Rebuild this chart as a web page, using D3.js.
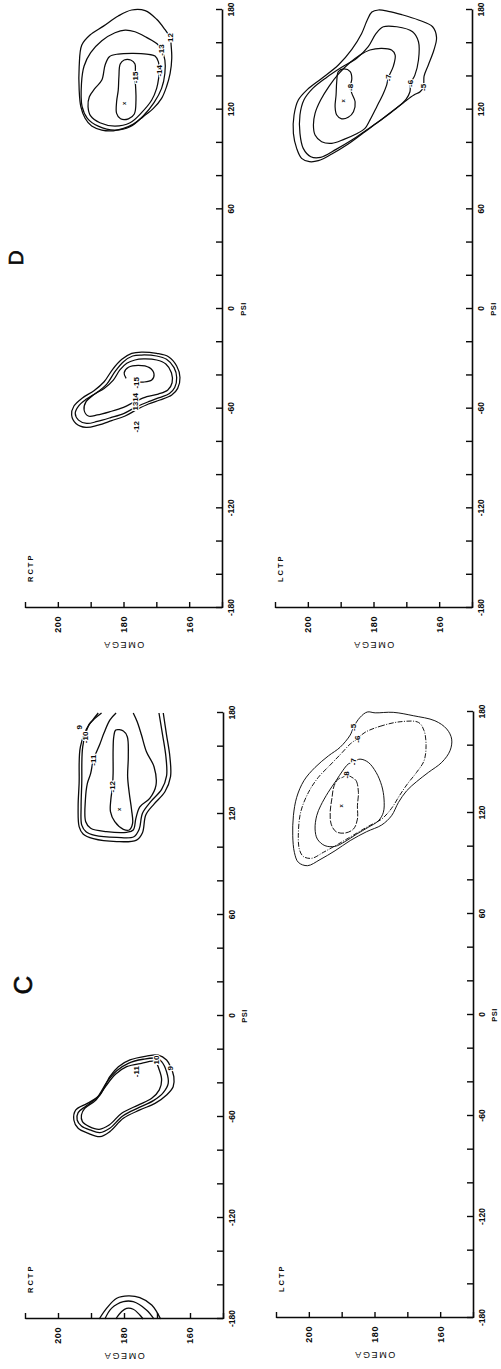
<!DOCTYPE html>
<html>
<head>
<meta charset="utf-8">
<script src="https://cdn.jsdelivr.net/npm/d3@7"></script>
<style>
  html, body { margin: 0; padding: 0; background: #fff; }
  svg { display: block; }
  .tick text { font-family: "Liberation Sans Narrow", "Liberation Sans", Arial, sans-serif; font-weight: bold; }
  .om .tick text { font-family: "Liberation Sans", Arial, sans-serif; }
</style>
</head>
<body>
<script>
// ---- Axis ticks ---------------------------------------------------------
const psiTickValues   = [-180, -160, -140, -120, -100, -80, -60, -40, -20, 0, 20, 40, 60, 80, 100, 120, 140, 160, 180];
const psiTickLabels   = [-180, -120, -60, 0, 60, 120, 180];
const omegaTickValues = [150, 160, 170, 180, 190, 200, 210];
const omegaTickLabels = [160, 180, 200];

// ---- Contours: points are [psi, omega] in degrees -----------------------
// Panel C, RCTP
const cR_edgeA = [[-180,187.5],[-173.7,185.3],[-167.7,182.2],[-166.3,178.7],[-167.3,175.2],[-171.7,171.6],[-180,168.9]];
const cR_edgeB = [[-180,185.8],[-173.7,183.8],[-169.7,180.2],[-169.7,177.2],[-174.6,173.2],[-180,170.9]];
const cR_edgeC = [[-180,182.5],[-175.6,180.7],[-173.7,179.2],[-174.2,177.2],[-177.6,175.2],[-180,174.2]];
const cR_mid9  = [[-23.2,169.6],[-23.8,173.2],[-26.1,178.2],[-30.1,181.7],[-36,184.3],[-46.9,187.3],[-51.9,191.1],[-55.8,194.6],[-61.8,195.2],[-66.7,193.9],[-69.7,190.8],[-71.7,187.3],[-68.7,184.3],[-60.8,180.2],[-55.8,175.2],[-51.9,170.6],[-46.9,167.1],[-42,165.1],[-36,164.9],[-30.1,165.9],[-26.1,167.1]];
const cR_mid10 = [[-25.1,170.1],[-25.7,174.2],[-28.1,178.7],[-32.5,182.2],[-39,185.1],[-48.3,188.1],[-53.5,191.5],[-57.4,193.9],[-61.8,194.2],[-65.3,192.9],[-67.7,190.3],[-69.3,187.3],[-66.7,184.3],[-59.4,180.4],[-54.3,175.4],[-50.3,171.1],[-45.5,168.1],[-40,166.6],[-33.1,167.1],[-27.1,168.6]];
const cR_mid11 = [[-27.1,170.6],[-28.1,174.7],[-30.1,179.2],[-34.5,182.5],[-41.6,185.5],[-49.9,188.5],[-54.9,191.9],[-58.8,192.9],[-62.8,192.6],[-65.7,190.5],[-67.3,187.5],[-64.8,184.5],[-57.8,180.7],[-52.9,175.7],[-48.9,171.6],[-43.9,169.3],[-38,168.6],[-32.1,169.3]];
const cR_top9  = [[180,186.8],[176.8,188.8],[173.4,190.5],[160,193.2],[138.2,193.6],[124.3,193.9],[112.5,193.6],[108.1,192.4],[105.3,189.3],[103.6,182.2],[104.5,176.2],[108.9,174.4],[119.4,173.4],[125.9,170.9],[133.2,167.6],[142.2,165.9],[154,166.1],[166.9,167.1],[180,168.1]];
const cR_top10 = [[180,187.8],[175.8,189.5],[172.3,190.8],[160,192.5],[138.2,192.8],[124.3,193],[113.4,192.8],[109.5,191.5],[107.3,188.8],[106.1,182.2],[106.5,177],[110.9,175.4],[120.4,174.4],[127.3,171.9],[134.6,168.6],[142.6,167.1],[154,167.3],[166.9,168.3],[180,169.4]];
const cR_top11 = [[180,182.4],[175.8,184.3],[167.9,186.1],[161.6,187.3],[152,189.3],[144.1,190.1],[138.2,191.1],[128.3,191.7],[115.4,191.6],[111.5,190.1],[109.5,185.3],[109.1,179.2],[110.5,177.2],[117.4,176.4],[124.3,175.2],[129.3,172.2],[137.2,170.3],[148.1,170.9],[157,173.2],[166.9,174.7],[174.8,176],[180,177.2]];
const cR_top12 = [[169.9,182.5],[169.3,180.2],[165.9,179],[154,178.7],[142.2,178.9],[132.3,178.4],[122.4,177.7],[114.4,177.4],[110.5,178.4],[110.9,180.2],[115.4,182.8],[121.4,184.1],[128.3,184],[136.2,183.5],[144.1,183.3],[158,183.3],[165.9,183.1]];

// Panel C, LCTP
const cL_5 = [[179.5,179.8],[179.8,174.3],[177.8,168.2],[174.8,161.6],[169.9,158],[163.9,156.5],[157,157],[150.1,159.5],[144.1,163.6],[138.6,167.2],[133.2,170.2],[126.3,172.7],[118.4,174.8],[112.9,177.8],[108.9,182.4],[103.6,187.4],[97.6,192],[92.3,196.6],[88.7,200.4],[90.7,203.2],[96.6,204.4],[106.5,204.9],[118.4,204.7],[129.3,203.7],[139.2,201.5],[147.1,198.1],[154,194],[159,190.5],[166.3,187.4],[170.9,186.4],[176.8,184.4],[180,182.2]];
const cL_6 = [[167.9,182.9],[171.5,178.3],[174.2,172.2],[173.8,166.6],[168.9,164.9],[160,164.3],[151.1,164.9],[144.1,167.2],[137.2,170],[130.3,172.4],[122.8,174.8],[116.4,177.8],[112.1,181.9],[106.9,186.4],[101.6,191],[96.6,195.6],[93.1,199.1],[94.2,201.7],[98.6,202.9],[106.5,203.2],[120.4,202.5],[132.3,200.1],[141.2,197.1],[148.5,193.5],[155.6,190],[161,187.4],[163.9,185.4]];
const cL_7 = [[152,184.4],[150.1,181.9],[144.1,179.5],[136.2,177.8],[128.3,177.1],[120.4,177.3],[115.4,178.8],[111.5,181.9],[107.5,185.4],[103,189],[100.2,192],[100.6,195.1],[104.5,197.4],[110.5,198.1],[118.4,197.6],[124.3,196.4],[132.3,194.1],[139.2,191.7],[145.1,189.7],[149.1,188],[150.5,186.4]];
const cL_8 = [[141.2,186.9],[139.2,185.6],[132.3,184.9],[124.3,185.2],[116.4,185.2],[110.5,186.4],[108.1,189],[108.9,191.7],[113.4,193.2],[120.4,193.5],[128.3,193],[136.2,192.3],[140.2,191],[141.2,189.7],[142.6,188.5]];

// Panel D, RCTP
const dR_low12 = [[-25.9,174.5],[-26.7,169.9],[-28.7,166.3],[-34.3,163.8],[-41.2,162.8],[-47.8,163.5],[-51.8,165.3],[-54.8,168.9],[-57.2,172.4],[-60.4,175.8],[-64.4,179.5],[-67.2,183.6],[-69.9,187.7],[-71.3,191.4],[-68.9,194.5],[-63.8,195.8],[-58.4,195.1],[-53.4,192.4],[-49.2,189],[-43.8,185.9],[-36.3,183.3],[-30.3,180.5],[-26.7,177.5]];
const dR_low13 = [[-27.7,174.5],[-28.3,169.9],[-30.3,166.9],[-35.3,164.6],[-41.2,163.8],[-47.2,164.4],[-50.8,166],[-53.4,169.1],[-55.8,172.4],[-58.8,176],[-62.8,179.8],[-65.4,183.9],[-67.7,188],[-68.9,191.2],[-66.9,193.7],[-62.8,194.7],[-58.4,193.7],[-54.4,191.4],[-50.4,188.2],[-45.2,185.1],[-37.7,182.6],[-31.7,180],[-28.3,177.2]];
const dR_low14 = [[-30.1,173.9],[-30.7,169.9],[-33.1,167.1],[-38.4,165.4],[-44.4,165.2],[-48.8,166.5],[-51.2,169.4],[-52.8,172.9],[-55.8,176.5],[-59.2,180],[-61.8,184.1],[-63.8,188],[-64.4,190.7],[-60.8,192],[-55.8,191.4],[-51.8,189.2],[-47.8,185.9],[-42.8,183.1],[-36.7,181.1],[-32.7,179],[-30.7,176.5]];
const dR_low15 = [[-41.8,179.2],[-38.4,179.8],[-35.1,178.5],[-33.9,175.5],[-35.3,172.1],[-39.2,170.7],[-42.8,171.4],[-44,174],[-43.8,176.5]];
const dR_high12 = [[158.9,165.5],[150.9,165.3],[141.8,165.8],[133.8,166.9],[126.8,168.4],[120.8,170.9],[115.8,174],[111.3,177],[108.7,180],[107.3,183.1],[107.7,186.6],[110.1,189.7],[114.8,191.7],[121.8,193],[131.8,193.5],[145.9,193.5],[158.9,192.7],[164.9,190.2],[170.3,186.1],[176.4,181.6],[180,177.5],[179.6,173.4],[174.4,169.9],[168.3,167.4],[163.5,165.8]];
const dR_high13 = [[159.5,169.7],[163.5,173],[166.9,176.5],[167.9,179.5],[166.3,182.6],[161.5,186.6],[154.3,190],[146.3,192],[135.8,192.8],[121.8,192.6],[114.8,191],[110.1,187.7],[107.7,182.6],[109.7,178],[116.2,174],[124.2,170.7],[132.8,168.4],[141.8,167.4],[149.9,167.4],[155.9,168.4]];
const dR_high14 = [[148.9,169.4],[152.3,170.4],[153.5,173],[153.9,177],[153.5,181.6],[151.9,184.3],[146.9,185.6],[137.8,186.6],[132.8,188.7],[127.8,190.4],[121.8,190.8],[116.2,190],[112.1,187.2],[110.1,182.6],[112.1,178],[118.2,174.5],[125.8,171.4],[132.8,169.9],[138.8,169.3],[143.4,169.1]];
const dR_high15 = [[142.8,176.4],[147.5,176.5],[149.9,177.8],[149.9,179.8],[147.5,181],[139.8,181.4],[131.8,181.6],[124.8,182.1],[117.8,182.1],[114.5,180.9],[114.5,178.5],[117.4,176.7],[125.8,176.2],[133.4,176.3],[139.4,176.5]];

// Panel D, LCTP
const dL_5 = [[140.2,164.6],[146.9,163.3],[155.9,161.6],[163.5,160.8],[169.9,162],[174,166.3],[177.2,171.4],[179.2,175.5],[180,178.5],[178.8,180.5],[174,181.9],[165.9,183.6],[156.3,186.6],[146.9,190.7],[138.8,195.8],[132.2,200.1],[125.8,202.9],[116.8,204.2],[105.7,204.4],[96.7,203.4],[90.7,201.9],[88.7,199.5],[89.3,196.8],[93.3,192.7],[99.3,187.7],[106.7,182.6],[112.7,178.5],[118.8,174.5],[124.2,170.9],[128.8,167.7],[130.8,165.8],[133.4,164.8]];
const dL_6 = [[140.8,167.4],[149.9,166.3],[160.9,166.3],[166.9,168.1],[169.9,172.9],[169.9,177],[165.9,179.2],[157.9,181.6],[150.9,185.1],[145.5,189.7],[139.4,194.3],[132.8,198.5],[125.8,201.2],[116.8,202.4],[105.7,202.4],[96.7,201.4],[91.7,199.1],[91.3,196.1],[96.1,191.4],[101.7,186.6],[108.1,181.9],[114.1,177.5],[120.2,173.4],[126.2,170.1],[130.8,168.9],[135.8,168.7]];
const dL_7 = [[145.9,174],[152.9,173.4],[155.9,174.5],[156.9,177.5],[155.9,181.1],[152.9,184.1],[147.9,187.4],[141.4,190.7],[134.2,193.5],[125.8,196.1],[117.8,197.8],[110.7,198.3],[104.7,197.8],[100.7,195.8],[99.7,192.7],[102.1,189],[105.3,185.3],[108.7,182.6],[113.7,181.1],[121.8,179],[129.8,177],[134.8,176],[139.2,175.5]];
const dL_8 = [[138.8,186.6],[142.9,187.1],[144.5,189],[142.9,190.7],[136.8,191.2],[128.8,191.4],[121.8,191.7],[116.8,191.2],[114.5,189.7],[115.4,187.7],[118.8,186.1],[124.8,185.6],[129.8,186.6],[133.4,187.1]];

// ---- Contour labels [psi, omega, text] and minima [psi, omega] ----------
const cRctpLabels = [[171.5,193.6,"9"],[165.5,191.9,"-10"],[152,189.3,"-11"],[136.2,183.6,"-12"],[-33.1,176.2,"-11"],[-26.1,170.1,"10"],[-31.1,165.9,"9"]];
const cLctpLabels = [[170.9,186.4,"-5"],[163.9,185.4,"-6"],[150.5,186.4,"-7"],[142.6,188.5,"-8"]];
const dRctpLabels = [[163.5,165.8,"12"],[155.9,168.4,"-13"],[143.4,169.1,"-14"],[139.4,176.5,"-15"],[-70.9,176,"-12"],[-58.4,176.5,"13"],[-53.2,176.5,"14"],[-44.4,176,"-15"]];
const dLctpLabels = [[133.4,164.8,"-5"],[135.8,168.7,"-6"],[139.2,175.5,"-7"],[133.4,187.1,"-8"]];
const cRctpMinima = [[122.8,181.5]];
const cLctpMinima = [[124.3,190]];
const dRctpMinima = [[123.8,179.8]];
const dLctpMinima = [[125.4,189.2]];

// ---- Page ---------------------------------------------------------------
const W = 501, H = 1369;
const svg = d3.select("body").append("svg")
  .attr("width", W).attr("height", H).attr("viewBox", `0 0 ${W} ${H}`);
svg.append("rect").attr("width", W).attr("height", H).attr("fill", "#fff");

// The figure is composed landscape and turned a quarter turn onto the page.
const sheet = svg.append("g").attr("transform", `translate(0,${H}) rotate(-90)`);

const panels = [
  { tag: "RCTP", x: [50, 656], y: [25, 223], sw: 1.3,
    contours: [
      { pts: cR_edgeA, closed: false }, { pts: cR_edgeB, closed: false }, { pts: cR_edgeC, closed: false },
      { pts: cR_mid9, closed: true }, { pts: cR_mid10, closed: true }, { pts: cR_mid11, closed: true },
      { pts: cR_top9, closed: false }, { pts: cR_top10, closed: false }, { pts: cR_top11, closed: false },
      { pts: cR_top12, closed: true } ],
    labels: cRctpLabels, minima: cRctpMinima },
  { tag: "LCTP", x: [51, 657], y: [276, 473], sw: 0.95,
    contours: [
      { pts: cL_5, closed: true }, { pts: cL_6, closed: true, dash: "5,1.5,1,1.5" },
      { pts: cL_7, closed: true }, { pts: cL_8, closed: true, dash: "6,1.5" } ],
    labels: cLctpLabels, minima: cLctpMinima },
  { tag: "RCTP", x: [761, 1359], y: [25, 222], sw: 1.25,
    contours: [
      { pts: dR_low12, closed: true }, { pts: dR_low13, closed: true }, { pts: dR_low14, closed: true },
      { pts: dR_low15, closed: false },
      { pts: dR_high12, closed: true }, { pts: dR_high13, closed: true }, { pts: dR_high14, closed: true },
      { pts: dR_high15, closed: true } ],
    labels: dRctpLabels, minima: dRctpMinima },
  { tag: "LCTP", x: [761, 1359], y: [275, 472], sw: 1.2,
    contours: [
      { pts: dL_5, closed: true }, { pts: dL_6, closed: true }, { pts: dL_7, closed: true }, { pts: dL_8, closed: true } ],
    labels: dLctpLabels, minima: dLctpMinima }
];

const labelFont = "'Liberation Sans', Arial, sans-serif";
const ink = "#0a0a0a";

panels.forEach(p => {
  const xs = d3.scaleLinear().domain([-180, 180]).range(p.x);
  const ys = d3.scaleLinear().domain([210, 150]).range(p.y);
  const g = sheet.append("g");

  // contours
  p.contours.forEach(c => {
    const gen = d3.line()
      .x(d => xs(d[0])).y(d => ys(d[1]))
      .curve(c.closed ? d3.curveCatmullRomClosed.alpha(0.5) : d3.curveCatmullRom.alpha(0.5));
    g.append("path")
      .attr("d", gen(c.pts))
      .attr("fill", "none")
      .attr("stroke", ink)
      .attr("stroke-width", p.sw)
      .attr("stroke-linejoin", "round")
      .attr("stroke-dasharray", c.dash || null);
  });

  // level labels, with a white halo that breaks the line beneath
  g.selectAll("text.lvl").data(p.labels).join("text")
    .attr("class", "lvl")
    .attr("x", d => xs(d[0])).attr("y", d => ys(d[1]))
    .attr("dy", "0.35em")
    .attr("text-anchor", "middle")
    .attr("font-family", labelFont).attr("font-weight", "bold").attr("font-size", 8)
    .attr("fill", ink)
    .attr("stroke", "#fff").attr("stroke-width", 2.2).attr("paint-order", "stroke")
    .text(d => d[2]);

  // minima
  g.selectAll("text.min").data(p.minima).join("text")
    .attr("class", "min")
    .attr("x", d => xs(d[0])).attr("y", d => ys(d[1]))
    .attr("dy", "0.3em")
    .attr("text-anchor", "middle")
    .attr("font-family", labelFont).attr("font-weight", "bold").attr("font-size", 6)
    .attr("fill", ink)
    .text("x");

  // PSI axis along the bottom, ticks pointing into the plot
  const psiAxis = d3.axisBottom(xs)
    .tickValues(psiTickValues)
    .tickSizeInner(-6).tickSizeOuter(0).tickPadding(6)
    .tickFormat(d => psiTickLabels.includes(d) ? String(d) : "");
  const ga = g.append("g").attr("transform", `translate(0,${p.y[1]})`).call(psiAxis);
  ga.select(".domain").attr("stroke", ink).attr("stroke-width", 1.6);
  ga.selectAll(".tick line").attr("stroke", ink).attr("stroke-width", 1.4);
  ga.selectAll(".tick text").attr("font-size", 8.5).attr("fill", ink);

  // OMEGA axis on the left
  const omAxis = d3.axisLeft(ys)
    .tickValues(omegaTickValues)
    .tickSizeInner(-6).tickSizeOuter(0).tickPadding(8)
    .tickFormat(d => omegaTickLabels.includes(d) ? String(d) : "");
  const go = g.append("g").attr("class", "om").attr("transform", `translate(${p.x[0]},0)`).call(omAxis);
  go.select(".domain").attr("stroke", ink).attr("stroke-width", 1.6);
  go.selectAll(".tick line").attr("stroke", ink).attr("stroke-width", 1.4);
  go.selectAll(".tick text").attr("font-size", 9).attr("letter-spacing", 0.6).attr("fill", ink);

  // axis titles and panel tag
  g.append("text")
    .attr("x", xs(0)).attr("y", p.y[1] + 24)
    .attr("text-anchor", "middle")
    .attr("font-family", labelFont).attr("font-weight", "bold").attr("font-size", 7.5)
    .attr("letter-spacing", 0.5).attr("fill", ink)
    .text("PSI");
  g.append("text")
    .attr("transform", `translate(${p.x[0] - 34},${ys(180)}) rotate(-90)`)
    .attr("text-anchor", "middle")
    .attr("font-family", labelFont).attr("font-size", 9)
    .attr("letter-spacing", 1.6).attr("fill", ink)
    .text("OMEGA");
  g.append("text")
    .attr("x", p.x[0] + 26).attr("y", p.y[0] + 8)
    .attr("font-family", labelFont).attr("font-weight", "bold").attr("font-size", 7.5)
    .attr("letter-spacing", 2).attr("fill", ink)
    .text(p.tag);
});

// Panel letters
sheet.append("text").attr("x", 384).attr("y", 32)
  .attr("text-anchor", "middle").attr("font-family", labelFont).attr("font-size", 26)
  .attr("fill", ink).attr("stroke", ink).attr("stroke-width", 0.6)
  .text("C");
sheet.append("text").attr("x", 1111).attr("y", 23)
  .attr("text-anchor", "middle").attr("font-family", labelFont).attr("font-size", 21)
  .attr("fill", ink).attr("stroke", ink).attr("stroke-width", 0.6)
  .text("D");
</script>
</body>
</html>
